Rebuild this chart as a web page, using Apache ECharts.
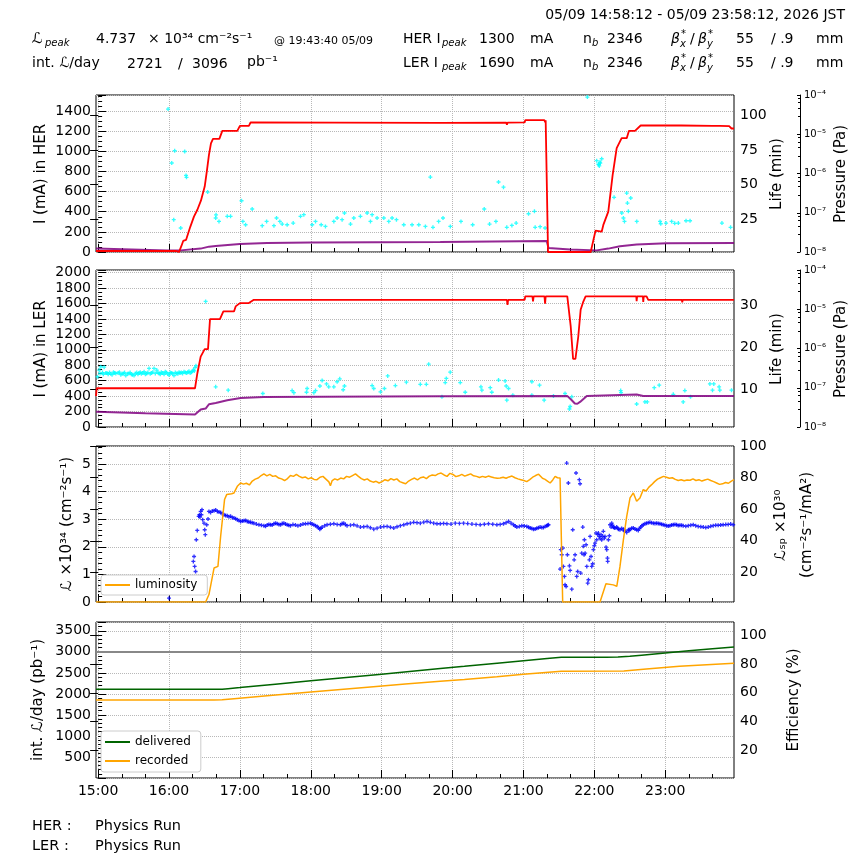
<!DOCTYPE html>
<html>
<head>
<meta charset="utf-8">
<script src="https://cdn.jsdelivr.net/npm/echarts@6/dist/echarts.min.js"></script>
<style>
html, body { margin: 0; padding: 0; background: #fff; }
#main { width: 864px; height: 864px; }
</style>
</head>
<body>
<div id="main"></div>
<script>
// time in minutes from 15:00, window 14:58:12 - 23:58:12
var T0 = -1.8, T1 = 538.2;
var hourTicks = [0, 60, 120, 180, 240, 300, 360, 420, 480];
var hourLabels = ['15:00', '16:00', '17:00', '18:00', '19:00', '20:00', '21:00', '22:00', '23:00'];
var minorTicks = [20, 40, 80, 100, 140, 160, 200, 220, 260, 280, 320, 340, 380, 400, 440, 460, 500, 520];

var herLifeTicks = [25, 50, 75, 100];
var lerLifeTicks = [10, 20, 30];
var lspTicks = [20, 40, 60, 80, 100];
var effTicks = [20, 40, 60, 80, 100];

// HER current (mA)
var herCurrent = [[-1.8,10],[66,10],[68.5,2],[70.5,60],[72,110],[74.4,120],[78,250],[81.1,351],[84,420],[87,510],[90.2,650],[92,800],[93.8,965],[95.5,1080],[97.2,1124],[102.6,1124],[105.1,1204],[117.8,1204],[120,1254],[127.6,1254],[129,1287],[200,1286],[289.6,1283],[345.5,1286],[346,1264],[346.6,1286],[361,1287],[361.5,1310],[377.8,1310],[378.3,1290],[378.8,1310],[380.3,1305],[380.8,0],[416.9,0],[421,212],[426.2,202],[427.6,269],[431.8,401],[435.5,766],[438.9,1032],[443.1,1131],[447.4,1131],[449.3,1204],[454.4,1204],[455.8,1197],[459.2,1257],[493.5,1257],[493.8,1240],[494.2,1257],[520,1254],[520.6,1240],[526.2,1254],[534.1,1250],[536.1,1227],[538.2,1227]];
// HER beam life (min)
var herLife = [[59.2,104.8],[62.3,65.6],[64.8,74.5],[64.0,24.5],[69.9,18.4],[73.3,74.0],[74.4,56.6],[74.8,55.2],[92.7,44.5],[99.5,25.7],[99.8,28.0],[102.3,23.2],[109.3,26.9],[112.1,26.9],[121.4,38.2],[122.5,23.2],[124.8,20.8],[130.4,32.2],[138.9,20.1],[142.6,23.2],[148.8,20.1],[151.0,25.7],[153.8,23.2],[155.8,21.3],[160.0,20.8],[165.1,22.0],[171.3,26.9],[174.1,28.1],[181.2,20.8],[184.0,23.2],[188.8,20.8],[192.4,19.6],[199.5,23.2],[202.3,25.7],[206.5,24.5],[208.5,29.3],[213.6,21.3],[216.4,25.7],[222.0,26.9],[227.7,29.3],[230.5,23.2],[231.9,28.1],[236.1,25.7],[241.8,25.7],[246.0,23.2],[248.8,25.7],[252.5,24.5],[258.7,20.8],[265.7,20.8],[271.4,20.8],[277.0,19.6],[281.2,55.4],[283.4,18.9],[288.2,23.2],[291.9,25.7],[298.1,19.6],[307.1,23.2],[317.0,20.8],[326.8,32.2],[331.3,21.3],[336.7,23.2],[338.9,51.8],[343.1,48.1],[345.9,18.9],[350.2,20.3],[353.8,22.0],[364.3,28.8],[369.3,30.5],[369.9,18.9],[374.1,19.4],[378.3,18.4],[414.1,113.5],[422.0,67.3],[423.4,64.8],[423.8,64.4],[424.8,66.3],[426.2,68.7],[424.2,63.5],[425.0,65.5],[436.7,40.7],[443.2,29.3],[444.6,25.7],[445.5,23.2],[447.4,43.8],[448.0,36.5],[448.8,30.5],[450.8,40.2],[455.9,23.2],[475.6,23.2],[476.2,21.5],[480.7,22.0],[485.4,23.2],[488.0,21.8],[491.1,22.0],[497.6,23.7],[501.0,23.7],[528.0,22.0],[535.3,18.9]];
// HER pressure (Pa)
var herPressure = [[-1.8,1.22e-8],[58.6,1.1e-8],[69.9,1.1e-8],[86.8,1.22e-8],[93.8,1.37e-8],[99.5,1.42e-8],[120,1.6e-8],[143,1.7e-8],[180,1.75e-8],[289.6,1.8e-8],[379.7,1.91e-8],[380.3,1.9e-8],[381.2,1.27e-8],[399.5,1.15e-8],[422,1.1e-8],[431.8,1.22e-8],[441.7,1.4e-8],[455.8,1.55e-8],[481.2,1.67e-8],[538.2,1.7e-8]];

// LER current (mA)
var lerCurrent = [[-1.8,400],[-1.2,502],[82,502],[84,697],[86.8,913],[90.2,1009],[93,1009],[94.7,1398],[103.1,1398],[106,1498],[115,1498],[116.4,1563],[120,1606],[127.6,1606],[131.8,1649],[346,1649],[346.5,1584],[347,1649],[361,1649],[361.5,1693],[367.6,1693],[368.1,1628],[368.6,1693],[377.8,1693],[378.3,1597],[378.8,1693],[397.1,1693],[400,1303],[402,883],[404,883],[406.4,1173],[408.4,1519],[410.4,1615],[412.6,1693],[455.5,1693],[455.8,1630],[456.2,1693],[461.1,1693],[461.4,1620],[461.8,1693],[464.2,1693],[465.6,1649],[494.1,1649],[494.4,1615],[494.8,1649],[538.2,1649]];
// LER beam life (min)
var lerLife = [[-0.5,13.0],[0.9,14.6],[1.6,13.8],[2.3,15.4],[3.7,14.0],[4.4,13.6],[5.1,15.3],[6.5,13.9],[7.5,13.9],[8.5,13.6],[9.6,14.0],[10.7,13.7],[11.8,13.5],[13.0,14.1],[14.0,13.9],[15.0,13.8],[16.9,13.9],[18.0,14.1],[19.2,13.5],[20.3,13.7],[21.4,13.8],[22.4,14.0],[23.4,13.3],[24.8,13.7],[26.0,13.8],[27.1,14.0],[28.1,13.6],[29.0,13.5],[30.4,13.3],[31.5,13.8],[32.7,14.0],[33.7,13.6],[34.6,13.9],[35.6,14.1],[36.6,13.7],[37.8,13.9],[38.9,14.2],[40.0,13.6],[41.1,13.8],[42.1,14.0],[43.1,15.0],[44.1,13.7],[45.1,13.9],[46.2,14.1],[47.3,15.0],[48.4,13.8],[49.6,14.6],[50.6,14.0],[51.6,13.8],[52.6,13.6],[53.5,14.1],[54.6,13.9],[55.8,13.6],[56.8,14.2],[57.8,14.0],[58.9,13.7],[60.0,13.4],[61.0,14.0],[62.0,13.9],[63.1,13.8],[64.2,13.3],[65.3,14.0],[66.5,13.8],[67.5,13.7],[68.5,14.1],[69.4,13.9],[70.4,14.0],[71.5,13.8],[72.7,14.2],[73.8,14.0],[74.9,13.9],[75.9,14.1],[76.9,14.3],[77.9,13.9],[78.9,14.1],[79.8,14.3],[80.6,14.6],[81.4,14.4],[82.0,15.2],[82.8,15.6],
  [91.0,31.0],[99.5,10.6],[110.1,9.8],[139.4,9.0],[164.2,9.7],[165.7,9.2],[176.4,9.3],[176.9,10.2],[182.6,9.2],[184.0,9.7],[187.7,10.8],[189.6,12.1],[193.3,11.3],[195.2,10.6],[199.5,10.6],[202.3,11.8],[204.5,12.5],[207.4,9.9],[208.5,10.8],[231.9,10.9],[233.3,10.2],[239.0,9.4],[242.3,10.2],[245.1,13.2],[251.6,10.9],[260.9,11.7],[272.7,11.2],[277.8,11.2],[279.8,16.0],
  [291.0,8.2],[293.8,11.6],[294.7,12.6],[298.0,14.1],[306.5,11.6],[310.7,9.3],[324.0,10.6],[324.8,9.8],[331.9,10.4],[333.2,9.3],[338.9,12.2],[344.5,12.0],[345.4,10.8],[345.9,7.4],[347.4,10.2],[351.0,8.6],[367.1,11.8],[367.1,8.6],[373.6,11.0],[377.5,7.4],[385.4,8.4],[395.2,9.0],[398.9,5.3],[399.5,5.9],[400.9,8.2],[442.3,9.7],[442.6,9.2],[455.8,6.5],[462.8,7.0],[464.8,7.0],[470.7,10.4],[474.9,11.0],[486.8,8.8],[495.2,7.0],[496.6,9.7],[501.4,8.2],[517.8,11.3],[521.1,11.3],[520.0,9.8],[525.6,10.6],[526.2,9.8],[536.1,9.8]];
// LER pressure (Pa)
var lerPressure = [[-1.8,2.45e-8],[40,2.25e-8],[82,2.08e-8],[86.8,2.79e-8],[91,2.95e-8],[93.8,3.8e-8],[99.5,4.1e-8],[109.3,4.8e-8],[120.6,5.5e-8],[140.3,5.85e-8],[289.6,6.1e-8],[397,6.2e-8],[400.9,4.8e-8],[403.5,3.97e-8],[405.6,3.9e-8],[407.9,4.36e-8],[413.6,6.2e-8],[455.8,6.7e-8],[461.4,6.2e-8],[538.2,6.2e-8]];

// luminosity (1e34 cm^-2 s^-1)
var lumi = [[-1.8,0],[91,0],[93.8,0.27],[98.1,1.23],[101.4,1.29],[103.7,2.38],[107,3.71],[108.8,3.89],[113,3.92],[115,3.95],[117.8,4.19],[120.6,4.31],[123,4.27],[125.5,4.30],[128,4.24],[130.5,4.38],[133,4.45],[135.5,4.49],[138,4.58],[140.3,4.64],[142.8,4.57],[145.3,4.62],[147.8,4.55],[150.3,4.57],[152.8,4.49],[155.3,4.46],[157.8,4.40],[160.3,4.47],[162.8,4.58],[165.3,4.55],[167.8,4.62],[170.3,4.55],[172.8,4.50],[175.3,4.53],[177.8,4.46],[180.3,4.50],[182.8,4.44],[185.3,4.43],[187.8,4.52],[190.3,4.55],[192.8,4.45],[195.3,4.35],[196.6,4.21],[198.1,4.40],[200.3,4.46],[202.8,4.42],[205.3,4.49],[207.8,4.46],[210.3,4.55],[212.8,4.52],[215.3,4.58],[217.8,4.64],[220.3,4.55],[222.8,4.47],[225.3,4.42],[227.8,4.46],[230.3,4.38],[232.8,4.34],[235.3,4.37],[237.8,4.31],[240.3,4.36],[242.8,4.43],[245.3,4.39],[247.8,4.47],[250.3,4.42],[252.8,4.46],[255.3,4.36],[257.8,4.32],[260.3,4.28],[262.8,4.38],[265.3,4.44],[267.8,4.49],[270.3,4.42],[272.8,4.50],[275.3,4.53],[277.8,4.47],[280.3,4.56],[282.8,4.60],[285.3,4.58],[287.8,4.64],[290.3,4.67],[292.8,4.60],[295.3,4.55],[297.8,4.66],[300.3,4.62],[302.8,4.54],[305.3,4.57],[307.8,4.62],[310.3,4.56],[312.8,4.60],[315.3,4.64],[317.8,4.57],[320.3,4.55],[322.8,4.51],[325.3,4.55],[327.8,4.52],[330.3,4.56],[332.8,4.53],[335.3,4.50],[337.8,4.48],[340.3,4.49],[342.8,4.52],[345.3,4.48],[347.8,4.53],[350.3,4.56],[352.8,4.50],[355.3,4.46],[357.8,4.43],[360.3,4.40],[362.8,4.36],[365.3,4.43],[367.8,4.52],[370.3,4.58],[372.8,4.63],[374.1,4.67],[376.1,4.48],[378.3,4.44],[380.3,4.38],[382.6,4.31],[384.8,4.42],[386.8,4.55],[388.8,4.50],[391,4.49],[392.3,4.43],[393.2,0],[424.8,0],[429.8,0.66],[436,0.62],[439,0.57],[441.7,1.29],[444.6,2.26],[447.4,3.10],[450.2,3.77],[453,3.95],[455.8,3.65],[458.6,3.77],[461.4,4.07],[463.8,4.02],[466,4.15],[468.5,4.25],[471,4.36],[473.5,4.45],[476,4.50],[478.5,4.55],[481,4.52],[483.5,4.48],[486,4.50],[488.5,4.44],[491,4.40],[493.5,4.43],[496,4.39],[498.5,4.42],[501,4.41],[503.5,4.46],[506,4.40],[508.5,4.43],[511,4.38],[513.5,4.42],[516,4.45],[518.5,4.40],[521,4.36],[523.5,4.31],[526,4.26],[528.5,4.28],[531,4.33],[533.5,4.30],[536,4.38],[538.2,4.43]];
// specific luminosity (1e30)
var lsp = [[60.0,3.7],[80.6,27.0],[81.2,30.1],[81.7,23.8],[82.5,20.6],[83.1,40.7],[83.9,46.6],[85.1,55.5],[85.7,56.5],[86.2,55.0],[86.8,58.6],[87.4,56.5],[87.9,59.7],[88.5,53.4],[89.6,51.2],[90.2,47.0],[90.7,43.9],[91.9,50.2],[93.0,53.8],[93.8,58.6],[95.2,58.0],[96.6,58.8],[98.1,59.1],[99.5,59.5],[100.9,58.6],[102.3,58.2],[103.7,58.0],[105.1,57.2],[106.5,56.5],[107.9,56.0],[109.3,55.9],[110.7,55.2],[112.1,55.5],[113.5,54.8],[115.0,54.4],[116.4,54.0],[117.8,53.4],[119.2,52.8],[120.6,52.3],[122.0,52.5],[123.4,52.7],[124.8,52.9],[126.2,52.3],[127.6,51.9],[129.0,51.7],[130.4,51.5],[131.8,51.2],[133.9,50.6],[136.1,50.2],[138.2,49.9],[140.3,49.6],[141.7,49.2],[143.1,50.0],[144.5,50.4],[145.9,50.2],[147.3,50.0],[148.8,50.8],[150.2,51.1],[151.6,50.8],[153.0,50.4],[154.4,50.2],[155.8,50.9],[157.2,51.2],[158.6,50.6],[160.0,50.2],[161.4,49.8],[162.8,49.6],[164.9,50.3],[167.0,50.0],[169.1,49.5],[171.3,50.0],[173.4,50.6],[175.5,50.8],[177.6,50.9],[179.7,51.2],[181.1,50.6],[182.6,50.2],[184.0,49.6],[185.4,49.1],[186.5,48.3],[187.6,47.4],[188.6,47.9],[189.6,48.7],[191.7,49.5],[193.8,50.2],[196.6,50.5],[199.5,50.8],[202.3,50.4],[205.1,50.2],[206.5,50.9],[207.9,51.2],[209.3,50.3],[210.7,49.6],[213.6,49.9],[216.4,50.2],[219.2,49.5],[222.0,48.7],[224.8,48.9],[227.7,49.1],[230.5,48.3],[233.3,47.4],[236.1,48.0],[239.0,48.7],[241.8,49.0],[244.6,49.1],[247.4,48.6],[250.2,48.1],[253.0,48.9],[255.8,49.6],[258.7,50.2],[261.5,50.8],[264.3,51.2],[267.1,51.7],[269.9,51.5],[272.7,51.2],[275.6,51.8],[278.4,52.3],[281.2,51.7],[284.0,51.2],[286.8,50.8],[289.6,50.8],[292.4,51.0],[295.2,50.8],[298.7,50.6],[302.3,51.2],[305.8,51.0],[309.3,51.2],[312.8,50.9],[316.4,50.6],[319.9,50.4],[323.4,50.2],[326.9,50.5],[330.4,50.8],[334.0,50.5],[337.5,50.2],[340.3,50.4],[343.1,50.8],[345.3,51.5],[347.4,52.3],[349.5,51.2],[351.6,50.2],[353.0,49.4],[354.4,48.7],[356.5,49.0],[358.6,49.6],[360.7,49.4],[362.8,49.1],[364.3,48.6],[365.7,48.1],[367.1,47.8],[368.5,47.4],[369.9,47.5],[371.3,47.9],[372.7,48.3],[374.1,48.7],[375.5,48.4],[376.9,48.5],[378.3,49.0],[379.7,49.6],[380.5,49.9],[381.2,50.2],
  [391.0,22.1],[391.6,34.4],[392.4,31.2],[393.3,35.4],[393.8,23.8],[394.7,17.5],[395.2,12.2],[396.1,11.1],[396.6,89.2],[397.2,31.2],[398.0,76.6],[398.9,24.2],[399.5,21.3],[400.9,9.4],[401.7,47.0],[402.9,28.0],[403.7,31.2],[404.5,82.9],[405.1,17.5],[405.9,20.6],[407.3,78.7],[407.9,76.1],[408.5,19.6],[409.3,32.2],[410.2,48.7],[410.7,36.5],[411.3,31.2],[411.6,40.7],[412.2,32.2],[413.0,37.5],[413.6,23.8],[414.4,13.2],[415.0,15.4],[415.8,28.0],[416.4,42.8],[417.2,30.1],[417.8,23.8],[418.6,25.5],[419.2,34.4],[420.0,36.9],[420.6,38.6],[421.4,44.9],[422.0,40.7],[422.9,43.9],[423.4,44.9],[424.3,42.8],[424.8,41.7],[425.7,43.9],[426.2,40.7],[427.1,42.8],[427.6,46.0],[428.5,41.7],[429.0,42.8],[429.9,36.0],[430.5,34.4],[431.1,29.1],[431.3,27.0],[431.9,40.7],[432.7,43.2],[433.3,50.2],[434.2,48.7],[434.7,51.2],[435.4,49.9],[436.1,48.7],[436.8,48.2],[437.5,48.1],[438.9,48.7],[439.6,48.0],[440.4,47.4],[441.7,47.0],[443.1,47.8],[444.6,47.4],[445.3,46.4],[446.0,46.0],[447.4,45.3],[448.8,47.0],[449.5,46.5],[450.2,47.4],[451.6,47.9],[453.0,48.1],[454.4,47.5],[455.8,47.0],[457.2,46.6],[458.2,47.8],[459.2,48.7],[460.3,49.5],[461.4,50.2],[462.8,50.8],[464.2,51.2],[465.6,51.5],[467.0,51.7],[468.4,51.4],[469.9,51.2],[471.3,51.0],[472.7,51.2],[474.1,51.0],[475.5,50.8],[476.9,50.5],[478.3,50.2],[479.7,49.9],[481.2,49.6],[482.6,49.4],[484.0,49.6],[485.4,50.0],[486.8,50.2],[488.2,50.4],[489.6,50.2],[491.0,49.7],[492.4,49.8],[493.8,49.9],[495.2,49.6],[497.4,49.2],[499.5,49.6],[501.6,49.9],[503.7,50.2],[505.8,49.6],[507.9,49.1],[510.1,48.9],[512.2,48.7],[514.3,48.4],[516.4,48.7],[518.5,49.2],[520.6,49.6],[522.7,49.9],[524.8,49.8],[526.9,50.0],[529.0,50.2],[531.2,50.3],[533.3,50.4],[535.4,50.6],[537.5,50.2]];

// integrated luminosity per day (pb^-1)
var delivered = [[-1.8,2110],[98,2110],[105,2112],[110,2125],[120,2150],[150,2230],[180,2310],[210,2390],[240,2470],[270,2550],[289.6,2602],[310,2655],[340,2737],[360,2790],[380,2843],[392,2870],[430,2872],[440,2878],[450,2895],[460,2920],[480,2972],[500,3024],[520,3072],[538.2,3118]];
var recorded = [[-1.8,1857],[98,1857],[105,1860],[115,1885],[143,1955],[180,2045],[228,2160],[260,2235],[289.6,2300],[310,2345],[337.5,2410],[360,2465],[392,2540],[445,2545],[464,2590],[492,2655],[538.2,2730]];
var target = [[T0,2994],[T1,2994]];

var FF = '"DejaVu Sans", sans-serif';
var GRID_LINE = { color: '#b8b8b8', type: 'dotted', width: 1 };
var PLUS = 'path://M1,0H2V1H3V2H2V3H1V2H0V1H1Z';

function supStr(n) {
  var m = { '-': '\u207b', '0': '\u2070', '1': '\u00b9', '2': '\u00b2', '3': '\u00b3', '4': '\u2074', '5': '\u2075', '6': '\u2076', '7': '\u2077', '8': '\u2078', '9': '\u2079' };
  return String(n).split('').map(function (c) { return m[c] || c; }).join('');
}

function mainX(g, labels) {
  return {
    type: 'value', gridIndex: g, position: 'bottom', min: T0, max: T1,
    axisLine: { show: false },
    axisTick: { show: true, inside: true, length: 8, customValues: hourTicks, lineStyle: { color: '#000' } },
    axisLabel: {
      show: labels, customValues: hourTicks, color: '#000', fontSize: 14, fontFamily: FF, margin: 6,
      formatter: function (v) { return hourLabels[hourTicks.indexOf(v)] || ''; }
    },
    splitLine: { show: true, lineStyle: GRID_LINE }
  };
}
function minorX(g) {
  return {
    type: 'value', gridIndex: g, position: 'bottom', min: T0, max: T1,
    axisLine: { show: false },
    axisTick: { show: true, inside: true, length: 4, customValues: minorTicks, lineStyle: { color: '#000' } },
    axisLabel: { show: false },
    splitLine: { show: false }
  };
}
function leftY(g, max, step, minorN, hideZero) {
  return {
    type: 'value', gridIndex: g, position: 'left', min: 0, max: max, interval: step,
    axisLine: { show: false },
    axisTick: { show: true, inside: true, length: 8, lineStyle: { color: '#000' } },
    minorTick: { show: true, splitNumber: minorN, length: 4, lineStyle: { color: '#000' } },
    axisLabel: {
      color: '#000', fontSize: 14, fontFamily: FF, margin: 5,
      formatter: function (v) {
        var k = v / step;
        if (Math.abs(k - Math.round(k)) > 1e-6) return '';
        if (hideZero && v === 0) return '';
        return String(Math.round(v * 1000) / 1000);
      }
    },
    splitLine: { show: true, lineStyle: GRID_LINE }
  };
}
function rightY(g, min, max, ticks) {
  return {
    type: 'value', gridIndex: g, position: 'right', min: min, max: max,
    axisLine: { show: false },
    axisTick: { show: true, inside: true, length: 8, customValues: ticks, lineStyle: { color: '#000' } },
    axisLabel: { customValues: ticks, color: '#000', fontSize: 14, fontFamily: FF, margin: 6 },
    splitLine: { show: false }
  };
}
function pressY(g) {
  return {
    type: 'log', logBase: 10, gridIndex: g, position: 'right', offset: 66, min: 1e-8, max: 1e-4,
    axisLine: { show: true, lineStyle: { color: '#000', width: 1 } },
    axisTick: { show: true, inside: true, length: 3, lineStyle: { color: '#000' } },
    minorTick: { show: true, splitNumber: 5, length: 2, lineStyle: { color: '#000' } },
    axisLabel: {
      color: '#000', fontSize: 10, fontFamily: FF, margin: 4,
      formatter: function (v) { return '10' + supStr(Math.round(Math.log10(v))); }
    },
    splitLine: { show: false }
  };
}
function txt(x, y, s, size, o) {
  o = o || {};
  return {
    type: 'text', x: x, y: y, rotation: o.rot || 0, z: 100,
    style: {
      text: s, fill: '#000',
      font: (o.it ? 'italic ' : '') + size + 'px ' + FF,
      textAlign: o.al || 'left', textVerticalAlign: 'middle'
    }
  };
}
function lineS(name, x, y, data, color, w, extra) {
  var s = {
    name: name, type: 'line', xAxisIndex: x, yAxisIndex: y, data: data,
    symbol: 'none', showSymbol: false, animation: false,
    lineStyle: { color: color, width: w }, itemStyle: { color: color }
  };
  if (extra) for (var k in extra) s[k] = extra[k];
  return s;
}
function dotS(name, x, y, data, color) {
  return {
    name: name, type: 'scatter', xAxisIndex: x, yAxisIndex: y, data: data,
    symbol: PLUS, symbolSize: 4, animation: false, itemStyle: { color: color }
  };
}

var R = Math.PI / 2;
var graphics = [
  txt(845, 15, '05/09 14:58:12 - 05/09 23:58:12, 2026 JST', 14, { al: 'right' }),
  // row 1
  txt(32, 39, '\u2112', 15), txt(45, 43, 'peak', 10, { it: true }),
  txt(96, 39, '4.737', 14), txt(148, 39, '\u00d7 10\u00b3\u2074 cm\u207b\u00b2s\u207b\u00b9', 14),
  txt(274, 41, '@ 19:43:40 05/09', 11),
  // row 2
  txt(32, 63, 'int. \u2112/day', 14),
  txt(127, 64, '2721', 14), txt(178, 64, '/', 14), txt(192, 64, '3096', 14), txt(247, 62, 'pb\u207b\u00b9', 14),
  // bottom
  txt(32, 826, 'HER :', 14.5), txt(95, 826, 'Physics Run', 14.5),
  txt(32, 846, 'LER :', 14.5), txt(95, 846, 'Physics Run', 14.5),
  // axis names
  txt(41, 174, 'I (mA) in HER', 15, { al: 'center', rot: R }),
  txt(41, 349, 'I (mA) in LER', 15, { al: 'center', rot: R }),
  txt(67, 524, '\u2112 \u00d710\u00b3\u2074 (cm\u207b\u00b2s\u207b\u00b9)', 15, { al: 'center', rot: R }),
  txt(38, 700, 'int. \u2112/day (pb\u207b\u00b9)', 15, { al: 'center', rot: R }),
  txt(777, 174, 'Life (min)', 15, { al: 'center', rot: R }),
  txt(777, 349, 'Life (min)', 15, { al: 'center', rot: R }),
  txt(841, 174, 'Pressure (Pa)', 15, { al: 'center', rot: R }),
  txt(841, 349, 'Pressure (Pa)', 15, { al: 'center', rot: R }),
  txt(781, 525, '\u2112\u209b\u209a \u00d710\u00b3\u2070', 15, { al: 'center', rot: R }),
  txt(807, 525, '(cm\u207b\u00b2s\u207b\u00b9/mA\u00b2)', 15, { al: 'center', rot: R }),
  txt(794, 700, 'Efficiency (%)', 15, { al: 'center', rot: R })
];
// ring rows: HER / LER
[['HER', 39, '1300'], ['LER', 63, '1690']].forEach(function (r) {
  var y = r[1];
  graphics.push(
    txt(403, y, r[0] + ' I', 14), txt(442, y + 4, 'peak', 10, { it: true }),
    txt(479, y, r[2], 14), txt(530, y, 'mA', 14),
    txt(583, y, 'n', 14), txt(592, y + 4, 'b', 10, { it: true }), txt(607, y, '2346', 14),
    txt(671, y, '\u03b2', 14, { it: true }), txt(681, y - 5, '*', 10), txt(680, y + 5, 'x', 10, { it: true }),
    txt(690, y, '/', 14), txt(698, y, '\u03b2', 14, { it: true }), txt(708, y - 5, '*', 10), txt(707, y + 5, 'y', 10, { it: true }),
    txt(736, y, '55', 14), txt(771, y, '/ .9', 14), txt(816, y, 'mm', 14)
  );
});

var legendBox = {
  left: 101, orient: 'vertical', icon: 'rect', itemWidth: 25, itemHeight: 2,
  borderColor: '#ccc', borderWidth: 1, borderRadius: 3, backgroundColor: '#fff',
  textStyle: { fontSize: 12, fontFamily: FF, color: '#000' }, selectedMode: false
};

var chart = echarts.init(document.getElementById('main'), null, { renderer: 'canvas' });
chart.setOption({
  animation: false,
  backgroundColor: '#fff',
  textStyle: { fontFamily: FF },
  grid: [
    { left: 96, right: 130, top: 95, height: 157, show: true, borderColor: '#000', borderWidth: 1, outerBoundsMode: 'none' },
    { left: 96, right: 130, top: 270, height: 157, show: true, borderColor: '#000', borderWidth: 1, outerBoundsMode: 'none' },
    { left: 96, right: 130, top: 446, height: 156, show: true, borderColor: '#000', borderWidth: 1, outerBoundsMode: 'none' },
    { left: 96, right: 130, top: 622, height: 156, show: true, borderColor: '#000', borderWidth: 1, outerBoundsMode: 'none' }
  ],
  xAxis: [mainX(0, false), mainX(1, false), mainX(2, false), mainX(3, true), minorX(0), minorX(1), minorX(2), minorX(3)],
  yAxis: [
    leftY(0, 1560, 200, 4, false), rightY(0, 1, 115, herLifeTicks), pressY(0),
    leftY(1, 2035, 200, 4, false), rightY(1, 1, 38.5, lerLifeTicks), pressY(1),
    leftY(2, 5.65, 1, 5, false), rightY(2, 1.3, 100, lspTicks),
    leftY(3, 3710, 500, 5, true), rightY(3, 0.5, 109.5, effTicks)
  ],
  legend: [
    Object.assign({}, legendBox, { data: ['luminosity'], top: 575, padding: [4, 10, 4, 4] }),
    Object.assign({}, legendBox, { data: ['delivered', 'recorded'], top: 731, itemGap: 7, padding: [5, 10, 5, 4] })
  ],
  graphic: graphics,
  series: [
    lineS('HER pressure', 0, 2, herPressure, '#800080', 2, { lineStyle: { color: '#800080', width: 2, opacity: 0.85 } }),
    dotS('HER life', 0, 1, herLife, '#00ffff'),
    lineS('HER current', 0, 0, herCurrent, '#ff0000', 1.8),
    lineS('LER pressure', 1, 5, lerPressure, '#800080', 2, { lineStyle: { color: '#800080', width: 2, opacity: 0.85 } }),
    dotS('LER life', 1, 4, lerLife, '#00ffff'),
    lineS('LER current', 1, 3, lerCurrent, '#ff0000', 1.8),
    dotS('specific luminosity', 2, 7, lsp, '#0000ff'),
    lineS('luminosity', 2, 6, lumi, '#ffa500', 1.5),
    lineS('target', 3, 8, target, '#888888', 2),
    lineS('delivered', 3, 8, delivered, '#006400', 1.5),
    lineS('recorded', 3, 8, recorded, '#ffa500', 1.5)
  ]
});
</script>
</body>
</html>
